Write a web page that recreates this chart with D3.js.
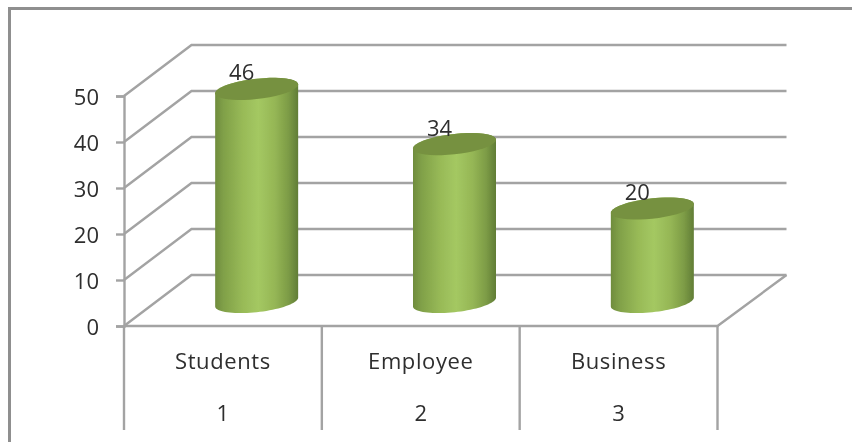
<!DOCTYPE html>
<html><head><meta charset="utf-8">
<script src="https://cdnjs.cloudflare.com/ajax/libs/d3/7.8.5/d3.min.js"></script>
<style>html,body{margin:0;padding:0;background:#fff}svg{display:block}
text{font-family:"Open Sans",sans-serif;fill:#2e2e2e}</style></head>
<body><div id="c"></div>
<script>
const categories = ["Students","Employee","Business"];
const indices = ["1","2","3"];
const values = [46,34,20];
const yTicks = [0,10,20,30,40,50];

const W=852,H=442;
const svg=d3.select("#c").append("svg").attr("width",W).attr("height",H);
const x=d3.scaleBand().domain(indices).range([124,717.5]);
const y=d3.scaleLinear().domain([0,50]).range([326,96]);
const dx=67.5,dy=-51, rightEnd=786.5, bottomY=430;
const grid="#a3a3a3";
const defs=svg.append("defs");
const g=defs.append("linearGradient").attr("id","cyl");
[[0,"#6f8c3d"],[.1,"#80a048"],[.33,"#98ba57"],[.52,"#a4c862"],[.72,"#95b655"],[.88,"#7d9c46"],[1,"#617d36"]]
 .forEach(([o,c])=>g.append("stop").attr("offset",o).attr("stop-color",c));
const f=defs.append("filter").attr("id","soft").attr("filterUnits","userSpaceOnUse")
 .attr("x",0).attr("y",0).attr("width",W).attr("height",H);
f.append("feGaussianBlur").attr("stdDeviation",0.4);

// frame
const root=svg.append("g").attr("filter","url(#soft)");
root.append("path").attr("d",`M9.5 ${H+4}V8.5H${W+4}`).attr("fill","none").attr("stroke","#8f8f8f").attr("stroke-width",3);

// walls and gridlines
const walls=root.append("g").attr("fill","none").attr("stroke",grid).attr("stroke-width",2.4);
yTicks.forEach(t=>{
  walls.append("path").attr("d",`M${x.range()[0]} ${y(t)}L${x.range()[0]+dx} ${y(t)+dy}H${rightEnd}`);
});
// floor
walls.append("path").attr("d",`M${x.range()[0]} ${y(0)}H${x.range()[1]}L${rightEnd} ${y(0)+dy}`);
// category dividers
[...indices.map(d=>x(d)),x.range()[1]].forEach(px=>{
  walls.append("line").attr("x1",px).attr("x2",px).attr("y1",y(0)).attr("y2",bottomY);
});

// value axis
const ax=root.append("g").attr("transform",`translate(${x.range()[0]},0)`)
 .call(d3.axisLeft(y).tickValues(yTicks).tickSize(8).tickPadding(17));
ax.select(".domain").attr("stroke",grid).attr("stroke-width",2.4);
ax.selectAll(".tick line").attr("stroke",grid).attr("stroke-width",2.4);
ax.selectAll("text").attr("y",1).style("font-size","22px").style("font-family",'"Open Sans",sans-serif').attr("fill","#2e2e2e");

// cylinders
const r=41.5, ry=10.2, shear=4.4;
const baseY=y(0)-24;
const edge=(cx,cy,a0,a1)=>d3.range(0,41).map(i=>{
  const t=a0+(a1-a0)*i/40;
  return [cx+r*Math.cos(t), cy+ry*Math.sin(t)-shear*Math.cos(t)];
});
const line=d3.line();
const center=d=>x(d)+x.bandwidth()/2+dx/2;
const topY=v=>baseY-(y(0)-y(v))-1.5;
const cyl=root.append("g");
values.forEach((v,i)=>{
  const cx=center(indices[i]);
  const pts=[...edge(cx,baseY,0,Math.PI),...edge(cx,topY(v),Math.PI,2*Math.PI)];
  cyl.append("path").attr("d",line(pts)+"Z").attr("fill","url(#cyl)");
  cyl.append("path").attr("d",line(edge(cx,topY(v),0,2*Math.PI))+"Z").attr("fill","#76913f");
});

// labels
const labels=root.append("g").attr("text-anchor","middle").style("font-size","22px");
values.forEach((v,i)=>{
  const k=indices[i];
  labels.append("text").attr("x",center(k)-15).attr("y",topY(v)-8.5).text(v);
  labels.append("text").attr("x",x(k)+x.bandwidth()/2).attr("y",369).style("letter-spacing","0.6px").text(categories[i]);
  labels.append("text").attr("x",x(k)+x.bandwidth()/2).attr("y",421).text(k);
});
</script></body></html>
